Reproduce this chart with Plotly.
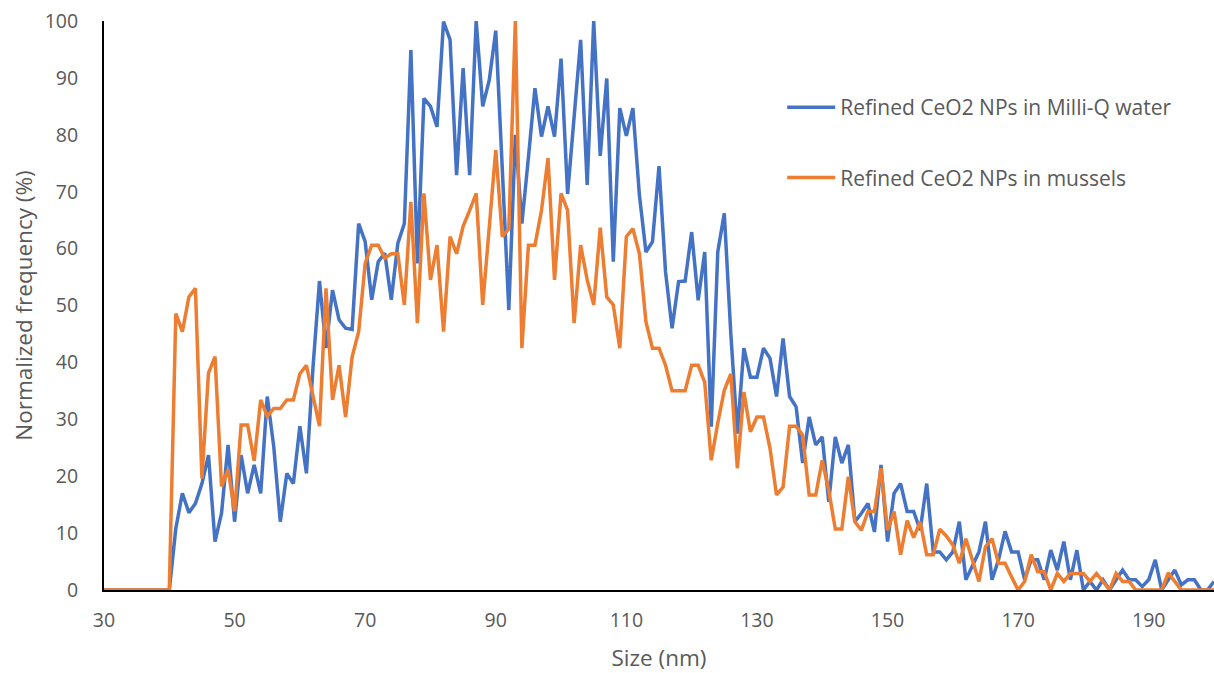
import plotly.graph_objects as go

sizes_nm = list(range(30, 201))

milliq_water = [
    0, 0, 0, 0, 0, 0, 0, 0, 0, 0,                          # 30-39
    0, 10.8, 17.0, 13.6, 15.2, 18.7, 23.7, 8.5, 13.5, 25.5, # 40-49
    12.0, 23.7, 17.0, 22.0, 17.0, 34.0, 25.2, 12.0, 20.5, 18.7,  # 50-59
    28.8, 20.5, 39.0, 54.3, 42.5, 52.7, 47.5, 46.0, 45.8, 64.4,  # 60-69
    61.2, 51.0, 57.7, 59.2, 51.0, 60.9, 64.4, 94.9, 57.4, 86.4,  # 70-79
    85.0, 81.4, 99.9, 96.7, 72.9, 91.7, 72.9, 100, 85.0, 89.6,   # 80-89
    98.3, 74.0, 49.2, 80.0, 64.4, 76.0, 88.2, 79.7, 85.0, 79.7,  # 90-99
    93.4, 69.6, 83.0, 96.7, 71.2, 100, 76.3, 89.9, 57.7, 84.7,   # 100-109
    79.8, 84.7, 69.4, 59.4, 61.2, 74.5, 55.9, 46.0, 54.2, 54.3,  # 110-119
    62.9, 50.9, 59.4, 28.7, 59.4, 66.2, 45.0, 27.5, 42.5, 37.4,  # 120-129
    37.4, 42.5, 40.7, 34.0, 44.2, 34.0, 32.2, 22.3, 30.4, 25.5,  # 130-139
    26.9, 15.5, 26.9, 22.3, 25.5, 12.0, 13.5, 15.2, 10.2, 22.0,  # 140-149
    8.5, 17.0, 18.7, 13.8, 13.8, 10.5, 18.7, 6.7, 6.7, 5.3,      # 150-159
    6.7, 12.0, 1.8, 4.4, 6.7, 12.0, 1.8, 5.3, 10.3, 6.7,         # 160-169
    6.7, 1.8, 5.3, 5.3, 1.8, 7.0, 3.5, 8.5, 1.8, 7.0,            # 170-179
    0, 1.5, 0, 1.8, 0, 1.8, 3.5, 1.8, 1.8, 0.6,                  # 180-189
    1.8, 5.3, 0, 1.8, 3.5, 0.9, 1.8, 1.8, 0, 0,                  # 190-199
    1.5,                                                         # 200
]

mussels = [
    0, 0, 0, 0, 0, 0, 0, 0, 0, 0,                                # 30-39
    0, 48.6, 45.4, 51.5, 53.0, 19.6, 38.1, 41.0, 18.2, 21.2,     # 40-49
    13.8, 29.0, 29.0, 22.7, 33.4, 30.5, 31.9, 31.9, 33.4, 33.4,  # 50-59
    38.0, 39.5, 34.0, 28.8, 53.0, 33.4, 39.5, 30.4, 41.0, 45.4,  # 60-69
    57.4, 60.6, 60.6, 58.3, 59.1, 59.1, 50.1, 68.2, 46.9, 69.7,  # 70-79
    54.5, 60.6, 45.4, 62.1, 59.1, 63.9, 66.7, 69.7, 50.1, 64.0,  # 80-89
    77.3, 62.1, 63.5, 100, 42.5, 60.6, 60.6, 66.7, 75.9, 54.5,   # 90-99
    69.7, 66.7, 46.9, 60.6, 54.5, 50.1, 63.7, 51.5, 50.1, 42.5,  # 100-109
    62.1, 63.5, 59.1, 47.1, 42.5, 42.5, 39.5, 35.0, 35.0, 35.0,  # 110-119
    39.5, 39.5, 36.5, 22.8, 29.3, 35.1, 38.0, 21.4, 34.8, 27.8,  # 120-129
    30.4, 30.4, 24.9, 16.7, 18.1, 28.8, 28.8, 27.2, 16.7, 16.7,  # 130-139
    22.8, 17.5, 10.7, 10.7, 19.9, 12.0, 10.5, 13.8, 13.8, 21.4,  # 140-149
    10.5, 13.8, 6.2, 12.2, 9.2, 12.0, 6.2, 6.2, 10.7, 9.5,       # 150-159
    7.9, 4.7, 9.0, 5.3, 1.5, 7.6, 9.0, 4.7, 4.7, 2.3,            # 160-169
    0, 1.5, 6.2, 3.2, 3.2, 0, 2.9, 1.5, 2.9, 2.9,                # 170-179
    2.9, 1.5, 2.9, 1.5, 0, 2.9, 1.5, 1.5, 0, 0,                  # 180-189
    0, 0, 0, 3.0, 1.5, 0, 0, 0, 0, 0,                            # 190-199
    0,                                                           # 200
]

x_ticks = list(range(30, 201, 20))
y_ticks = list(range(0, 101, 10))

series_names = ["Refined CeO2 NPs in Milli-Q water", "Refined CeO2 NPs in mussels"]
series_colors = ["#4472C4", "#ED7D31"]

FONT = "Open Sans"
GREY = "#595959"

fig = go.Figure()
for i, (name, vals, col) in enumerate(zip(series_names, [milliq_water, mussels], series_colors)):
    fig.add_trace(go.Scatter(
        x=sizes_nm, y=vals, mode="lines", name=name,
        line=dict(color=col, width=3.5),
        legendgroup=f"g{i}",
    ))

fig.update_layout(
    width=1214, height=673,
    margin=dict(l=104, r=0, t=21, b=83),
    plot_bgcolor="white", paper_bgcolor="white",
    font=dict(family=FONT, color=GREY, size=19),
    showlegend=True,
    legend=dict(
        x=0.611, y=0.884, xanchor="left", yanchor="top",
        bgcolor="rgba(0,0,0,0)",
        font=dict(family=FONT, size=21, color=GREY),
        tracegroupgap=40, itemwidth=48,
    ),
    xaxis=dict(
        range=[30, 200], tickvals=x_ticks, ticktext=[str(v) for v in x_ticks],
        showgrid=False, zeroline=False,
        showline=True, linecolor="black", linewidth=2,
        ticks="", ticklabelstandoff=12,
        tickfont=dict(family=FONT, size=19.5, color=GREY),
        title=dict(text="Size (nm)", font=dict(family=FONT, size=22.5, color=GREY), standoff=20),
    ),
    yaxis=dict(
        range=[0, 100], tickvals=y_ticks,
        showgrid=False, zeroline=False,
        showline=True, linecolor="black", linewidth=2,
        ticks="", ticklabelstandoff=20,
        tickfont=dict(family=FONT, size=19.5, color=GREY),
        title=dict(text="Normalized frequency (%)", font=dict(family=FONT, size=22.5, color=GREY), standoff=6),
    ),
)

fig.write_html("out.html")
